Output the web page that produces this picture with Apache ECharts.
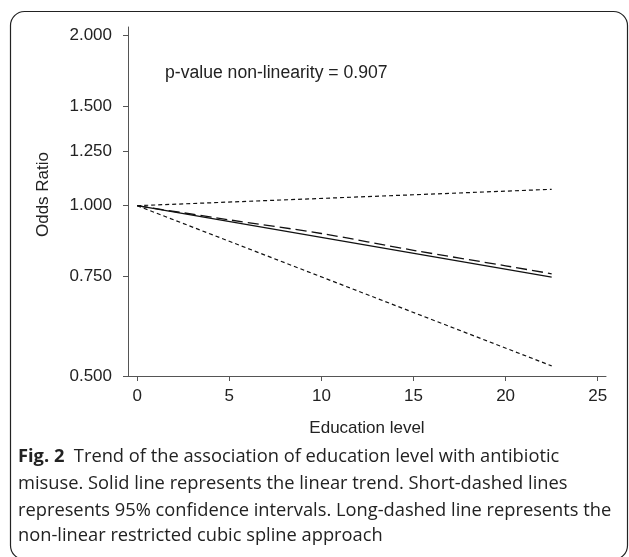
<!DOCTYPE html>
<html>
<head>
<meta charset="utf-8">
<script src="https://cdn.jsdelivr.net/npm/echarts@6/dist/echarts.min.js"></script>
<style>
html,body{margin:0;padding:0;background:#fff;}
#chart{width:629px;height:557px;}
</style>
</head>
<body>
<div id="chart"></div>
<script>
// ---- data ----
const educationLevels = [0, 22.5];
const linearTrend = [1.000, 0.748];
const ciUpper = [1.000, 1.069];
const ciLower = [1.000, 0.521];
const splineX = [0, 5, 10, 15, 20, 22.5];
const splineOR = [1.000, 0.944, 0.893, 0.834, 0.783, 0.758];
const xTicks = [0, 5, 10, 15, 20, 25];
const yTicks = [0.5, 0.75, 1.0, 1.25, 1.5, 2.0];
const yTickLabels = ['0.500', '0.750', '1.000', '1.250', '1.500', '2.000'];
const annotation = 'p-value non-linearity = 0.907';
const captionLines = [
  'Trend of the association of education level with antibiotic',
  'misuse. Solid line represents the linear trend. Short-dashed lines',
  'represents 95% confidence intervals. Long-dashed line represents the',
  'non-linear restricted cubic spline approach'
];

const pairs = (xs, ys) => xs.map((x, i) => [x, Math.log(ys[i])]);
const lineColor = '#111';
const axisColor = '#555';
const font = 'Liberation Sans, Arial, sans-serif';
const capFont = '18.3px "Open Sans", sans-serif';

const chart = echarts.init(document.getElementById('chart'));
chart.setOption({
  animation: false,
  backgroundColor: '#fff',
  grid: { left: 128, top: 27, right: 23, bottom: 181, containLabel: false, outerBoundsMode: 'none' },
  xAxis: {
    type: 'value', min: -0.5, max: 25.45,
    name: 'Education level', nameLocation: 'middle', nameGap: 44,
    nameTextStyle: { fontFamily: font, fontSize: 17, color: '#222' },
    axisLine: { show: true, onZero: false, lineStyle: { color: axisColor, width: 1 } },
    axisTick: { show: true, length: 5, inside: false, customValues: xTicks, lineStyle: { color: axisColor } },
    axisLabel: { customValues: xTicks, fontFamily: font, fontSize: 17, color: '#222', margin: 12 },
    splitLine: { show: false }
  },
  yAxis: {
    type: 'value', min: Math.log(0.5), max: Math.log(2) + 0.0342,
    name: 'Odds Ratio', nameLocation: 'middle', nameGap: 76, nameRotate: 90,
    nameTextStyle: { fontFamily: font, fontSize: 17, color: '#222', padding: [0, 0, 0, 14] },
    axisLine: { show: true, onZero: false, lineStyle: { color: axisColor, width: 1 } },
    axisTick: { show: true, length: 5, customValues: yTicks.map(v => Math.log(v)), lineStyle: { color: axisColor } },
    axisLabel: {
      customValues: yTicks.map(v => Math.log(v)),
      fontFamily: font, fontSize: 17, color: '#222', margin: 16,
      formatter: (v) => {
        let best = 0, bd = Infinity;
        yTicks.forEach((t, i) => { const d = Math.abs(Math.log(t) - v); if (d < bd) { bd = d; best = i; } });
        return yTickLabels[best];
      }
    },
    splitLine: { show: false }
  },
  series: [
    { type: 'line', name: 'Linear trend', data: pairs(educationLevels, linearTrend), symbol: 'none',
      lineStyle: { color: lineColor, width: 1.3, type: 'solid' } },
    { type: 'line', name: 'Upper 95% CI', data: pairs(educationLevels, ciUpper), symbol: 'none',
      lineStyle: { color: lineColor, width: 1.2, type: [4, 3] } },
    { type: 'line', name: 'Lower 95% CI', data: pairs(educationLevels, ciLower), symbol: 'none',
      lineStyle: { color: lineColor, width: 1.2, type: [4, 3] } },
    { type: 'line', name: 'Restricted cubic spline', data: pairs(splineX, splineOR), symbol: 'none', smooth: 0.3,
      lineStyle: { color: lineColor, width: 1.3, type: [11, 5] } }
  ],
  graphic: [
    { type: 'rect', z: -1, silent: true,
      shape: { x: 10.5, y: 11.5, width: 617, height: 548, r: 14 },
      style: { fill: 'none', stroke: '#222', lineWidth: 1.2 } },
    { type: 'text', left: 165, top: 64,
      style: { text: annotation, font: '17.6px ' + font, fill: '#222' } },
    { type: 'text', left: 18, top: 448,
      style: { text: '{b|Fig. 2}  ' + captionLines[0], font: capFont, fill: '#222',
        rich: { b: { fontWeight: 'bold', fontFamily: 'Open Sans', fontSize: 18.3, fill: '#222' } } } },
    { type: 'text', left: 18, top: 475, style: { text: captionLines[1], font: capFont, fill: '#222' } },
    { type: 'text', left: 18, top: 502, style: { text: captionLines[2], font: capFont, fill: '#222' } },
    { type: 'text', left: 18, top: 527, style: { text: captionLines[3], font: capFont, fill: '#222' } }
  ]
});
</script>
</body>
</html>
